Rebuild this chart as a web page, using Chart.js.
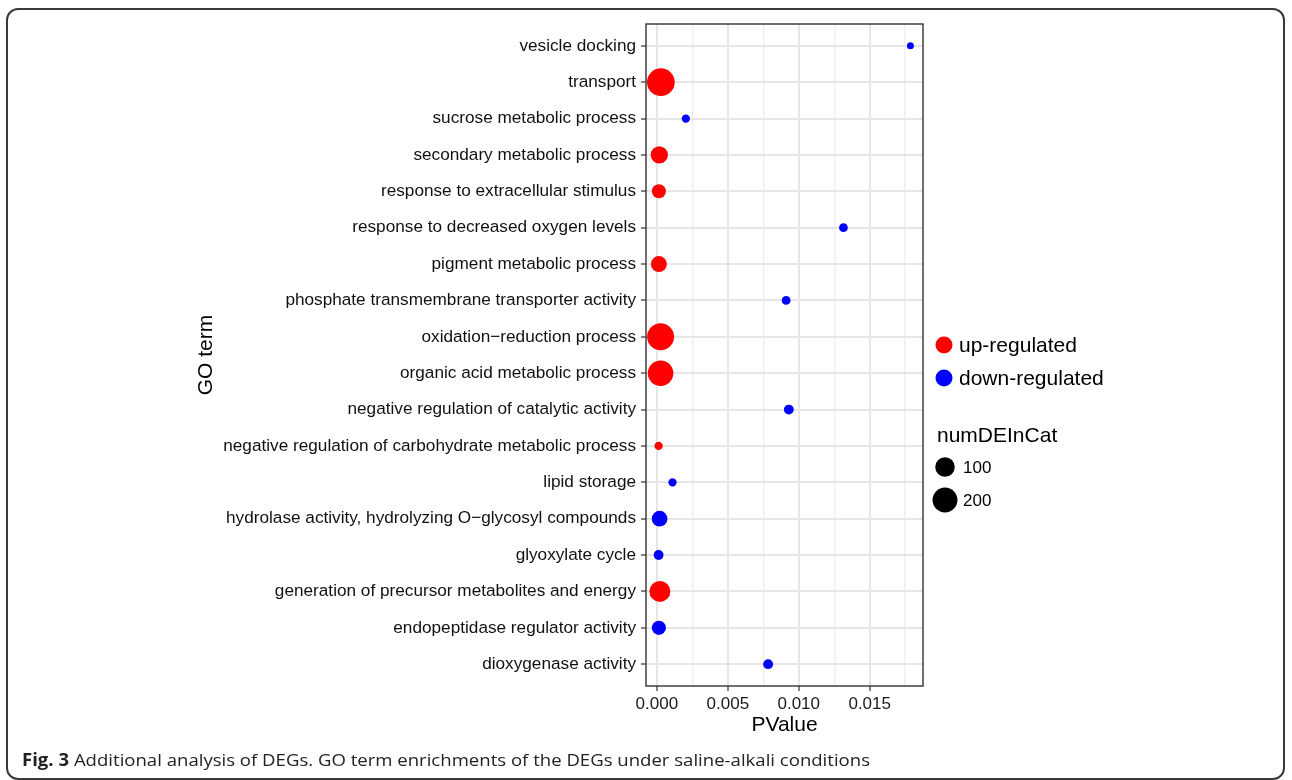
<!DOCTYPE html>
<html>
<head>
<meta charset="utf-8">
<script src="https://cdn.jsdelivr.net/npm/chart.js@4.4.1/dist/chart.umd.min.js"></script>
<style>
  html, body { margin: 0; padding: 0; background: #fff; }
  body { width: 1292px; height: 780px; position: relative; overflow: hidden; }
  #frame { position: absolute; left: 6px; top: 8px; width: 1279px; height: 772px;
           border: 2px solid #3a3a3a; border-radius: 12px; box-sizing: border-box; }
  #wrap { position: absolute; left: 0; top: 0; width: 1292px; height: 780px; }
  #caption { position: absolute; left: 22px; top: 748px; font-family: "Open Sans", sans-serif;
             font-size: 17px; color: #222; white-space: nowrap; transform-origin: 0 0; }
  #caption b { font-weight: 700; }
</style>
</head>
<body>
<div id="frame"></div>
<div id="wrap"><canvas id="chart" width="1292" height="780"></canvas></div>
<div id="caption"><b>Fig. 3</b> Additional analysis of DEGs. GO term enrichments of the DEGs under saline-alkali conditions</div>
<script>
// GO terms, listed top to bottom
const terms = [
  "vesicle docking",
  "transport",
  "sucrose metabolic process",
  "secondary metabolic process",
  "response to extracellular stimulus",
  "response to decreased oxygen levels",
  "pigment metabolic process",
  "phosphate transmembrane transporter activity",
  "oxidation\u2212reduction process",
  "organic acid metabolic process",
  "negative regulation of catalytic activity",
  "negative regulation of carbohydrate metabolic process",
  "lipid storage",
  "hydrolase activity, hydrolyzing O\u2212glycosyl compounds",
  "glyoxylate cycle",
  "generation of precursor metabolites and energy",
  "endopeptidase regulator activity",
  "dioxygenase activity"
];
const pValues = [
  0.01787, 0.00028, 0.00204, 0.00017, 0.00014, 0.01315, 0.00014, 0.00911, 0.00026,
  0.00026, 0.00930, 0.00012, 0.00110, 0.00019, 0.00012, 0.00021, 0.00014, 0.00784
];
const numDEInCat = [
  5, 265, 6, 69, 35, 7, 54, 7, 248,
  213, 10, 6, 6, 51, 10, 124, 37, 10
];
const regulation = [
  "down", "up", "down", "up", "up", "down", "up", "down", "up",
  "up", "down", "up", "down", "down", "down", "up", "down", "down"
];
const groups = ["up-regulated", "down-regulated"];
const groupKeys = ["up", "down"];
const groupColors = ["#ff0000", "#0000ff"];
const sizeBreaks = [100, 200];
const xTicks = [0, 0.0025, 0.005, 0.0075, 0.01, 0.0125, 0.015, 0.0175];
const xMajor = [0, 0.005, 0.01, 0.015];

// area-style size scale: counts -> point diameter in px
const nMin = Math.min(...numDEInCat), nMax = Math.max(...numDEInCat);
function diameter(n) {
  const f = Math.max(0, (n - nMin) / (nMax - nMin));
  const s = 1 + 5 * Math.sqrt(f);
  return 2.86 + 4.14 * s;
}

const pMin = Math.min(...pValues), pMax = Math.max(...pValues);
const pad = (pMax - pMin) * 0.05;

const datasets = groupKeys.map((key, g) => ({
  label: groups[g],
  data: terms.map((t, i) => ({ x: pValues[i], y: i, n: numDEInCat[i], r: regulation[i] }))
             .filter(d => d.r === key),
  backgroundColor: groupColors[g],
  borderWidth: 0,
  pointRadius: ctx => diameter(ctx.raw.n) / 2,
  pointHoverRadius: ctx => diameter(ctx.raw.n) / 2
}));

const FONT = "'Liberation Sans', Arial, sans-serif";
const isMajor = v => xMajor.some(m => Math.abs(m - v) < 1e-9);

// panel border plus the ggplot-style legend on the right
const panelAndLegend = {
  id: 'panelAndLegend',
  afterDatasetsDraw(chart) {
    const { ctx, chartArea: a } = chart;
    ctx.save();
    ctx.strokeStyle = '#333';
    ctx.lineWidth = 1.4;
    ctx.strokeRect(a.left, a.top, a.right - a.left, a.bottom - a.top);

    const kx = a.right + 21;
    ctx.textBaseline = 'middle';
    ctx.textAlign = 'left';
    ctx.fillStyle = '#000';
    groups.forEach((label, g) => {
      const cy = 345 + g * 33;
      ctx.beginPath();
      ctx.fillStyle = groupColors[g];
      ctx.arc(kx, cy, 8.5, 0, Math.PI * 2);
      ctx.fill();
      ctx.fillStyle = '#000';
      ctx.font = `21px ${FONT}`;
      ctx.fillText(label, kx + 15, cy + 1);
    });

    ctx.font = `21px ${FONT}`;
    ctx.fillText('numDEInCat', a.right + 14, 436);
    sizeBreaks.forEach((b, k) => {
      const cy = 467 + k * 33;
      ctx.beginPath();
      ctx.fillStyle = '#000';
      ctx.arc(kx + 1, cy, diameter(b) / 2, 0, Math.PI * 2);
      ctx.fill();
      ctx.font = `17px ${FONT}`;
      ctx.fillText(String(b), a.right + 40, cy + 1);
    });
    ctx.restore();
  }
};

new Chart(document.getElementById('chart'), {
  type: 'scatter',
  data: { datasets },
  plugins: [panelAndLegend],
  options: {
    responsive: false,
    animation: false,
    events: [],
    layout: { padding: { left: 190, top: 24, right: 369, bottom: 38 } },
    plugins: { legend: { display: false }, tooltip: { enabled: false } },
    scales: {
      x: {
        type: 'linear',
        min: pMin - pad,
        max: pMax + pad,
        afterBuildTicks: s => { s.ticks = xTicks.map(v => ({ value: v })); },
        afterFit: s => { s.height = 56; },
        border: { display: false },
        grid: {
          color: ctx => isMajor(ctx.tick.value) ? '#e6e6e6' : '#efefef',
          lineWidth: ctx => isMajor(ctx.tick.value) ? 2 : 1.4,
          tickColor: ctx => isMajor(ctx.tick.value) ? '#333' : 'rgba(0,0,0,0)',
          tickLength: 5,
          tickWidth: 1.2
        },
        ticks: {
          autoSkip: false,
          maxRotation: 0,
          padding: 3,
          color: '#1a1a1a',
          font: { family: FONT, size: 17 },
          callback: v => isMajor(v) ? v.toFixed(3) : ''
        },
        title: {
          display: true,
          text: 'PValue',
          color: '#000',
          font: { family: FONT, size: 21 },
          padding: { top: 4, bottom: 4 }
        }
      },
      y: {
        type: 'linear',
        reverse: true,
        min: -0.6,
        max: terms.length - 1 + 0.6,
        afterBuildTicks: s => { s.ticks = terms.map((t, i) => ({ value: i })); },
        afterFit: s => { s.width = 456; },
        border: { display: false },
        grid: {
          color: '#e6e6e6',
          lineWidth: 2,
          tickColor: '#333',
          tickLength: 5,
          tickWidth: 1.2
        },
        ticks: {
          autoSkip: false,
          padding: 5,
          color: '#111',
          font: { family: FONT, size: 17.2 },
          callback: v => terms[v] ?? ''
        },
        title: {
          display: true,
          text: 'GO term',
          color: '#000',
          font: { family: FONT, size: 21 },
          padding: { top: 4, bottom: 4 }
        }
      }
    }
  }
});

// fit the caption line to its printed width
const cap = document.getElementById('caption');
const w = cap.getBoundingClientRect().width;
cap.style.transform = `scaleX(${848 / w})`;
</script>
</body>
</html>
